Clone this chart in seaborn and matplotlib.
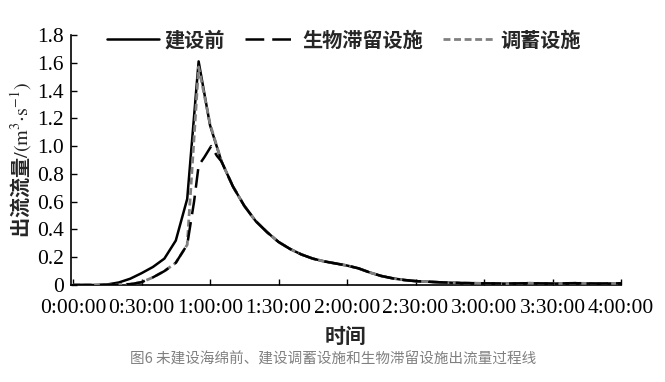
import matplotlib
matplotlib.use("Agg")
import matplotlib.pyplot as plt
import seaborn as sns
import pandas as pd

# ---- data (minutes since start, flow m3/s) ----
t_before = [0, 5, 10, 15, 20, 25, 30, 35, 40, 45, 50, 55, 60, 65, 70, 75, 80, 85, 90,
            95, 100, 105, 110, 115, 120, 125, 130, 135, 140, 145, 150, 160, 170, 180,
            190, 200, 210, 220, 230, 240]
q_before = [0, 0, 0, 0.004, 0.018, 0.045, 0.085, 0.13, 0.19, 0.32, 0.62, 1.61, 1.15,
            0.89, 0.71, 0.57, 0.46, 0.38, 0.31, 0.26, 0.22, 0.19, 0.17, 0.155, 0.14,
            0.12, 0.09, 0.065, 0.048, 0.036, 0.028, 0.02, 0.014, 0.012, 0.01, 0.013,
            0.01, 0.013, 0.01, 0.012]

t_bio = [0, 5, 10, 15, 20, 25, 30, 35, 40, 45, 50, 53, 55, 57.5, 60.5, 63, 65, 70, 75,
         80, 85, 90, 95, 100, 105, 110, 115, 120, 125, 130, 135, 140, 145, 150, 160,
         170, 180, 190, 200, 210, 220, 230, 240]
q_bio = [0, 0, 0, 0, 0.002, 0.006, 0.02, 0.055, 0.1, 0.16, 0.29, 0.6, 0.86, 0.92, 1.0,
         0.93, 0.89, 0.71, 0.57, 0.46, 0.38, 0.31, 0.26, 0.22, 0.19, 0.17, 0.155, 0.14,
         0.12, 0.09, 0.065, 0.048, 0.036, 0.028, 0.02, 0.014, 0.012, 0.01, 0.013, 0.01,
         0.013, 0.01, 0.012]

t_store = [0, 5, 10, 15, 20, 25, 30, 35, 40, 45, 50, 55, 60, 65, 70, 75, 80, 85, 90,
           95, 100, 105, 110, 115, 120, 125, 130, 135, 140, 145, 150, 160, 170, 180,
           190, 200, 210, 220, 230, 240]
q_store = [0, 0, 0, 0, 0.002, 0.006, 0.02, 0.055, 0.1, 0.16, 0.29, 1.57, 1.16, 0.89,
           0.71, 0.57, 0.46, 0.38, 0.31, 0.26, 0.22, 0.19, 0.17, 0.155, 0.14, 0.12,
           0.09, 0.065, 0.048, 0.036, 0.028, 0.02, 0.014, 0.012, 0.01, 0.013, 0.01,
           0.013, 0.01, 0.012]

series_names = ["建设前", "生物滞留设施", "调蓄设施"]
x_ticks = [0, 30, 60, 90, 120, 150, 180, 210, 240]
x_tick_labels = ["0:00:00", "0:30:00", "1:00:00", "1:30:00", "2:00:00",
                 "2:30:00", "3:00:00", "3:30:00", "4:00:00"]
y_ticks = [0, 0.2, 0.4, 0.6, 0.8, 1.0, 1.2, 1.4, 1.6, 1.8]
y_tick_labels = ["0", "0.2", "0.4", "0.6", "0.8", "1.0", "1.2", "1.4", "1.6", "1.8"]

sns.set_theme(style="ticks")
plt.rcParams["font.family"] = ["Noto Sans CJK SC", "DejaVu Sans"]
plt.rcParams["mathtext.fontset"] = "stix"
plt.rcParams["axes.unicode_minus"] = False

fig = plt.figure(figsize=(6.65, 3.82), dpi=100)
ax = fig.add_axes([71 / 665, 1 - 285 / 382, 550 / 665, 250 / 382])

df_b = pd.DataFrame({"t": t_before, "q": q_before})
df_s = pd.DataFrame({"t": t_store, "q": q_store})
df_bio = pd.DataFrame({"t": t_bio, "q": q_bio})

sns.lineplot(data=df_b, x="t", y="q", ax=ax, color="black", lw=1.8,
             label=series_names[0], zorder=2)
sns.lineplot(data=df_s, x="t", y="q", ax=ax, color="#808080", lw=2.0,
             linestyle=(0, (2.5, 1.3)), label=series_names[2], zorder=3)
sns.lineplot(data=df_bio, x="t", y="q", ax=ax, color="black", lw=1.8,
             linestyle=(0, (7.5, 3.2)), label=series_names[1], zorder=4)

ax.set_xlim(-0.9, 240)
ax.set_ylim(0, 1.8)
ax.set_xticks(x_ticks)
ax.set_xticklabels(x_tick_labels)
ax.set_yticks(y_ticks)
ax.set_yticklabels(y_tick_labels)
for lab in ax.get_xticklabels() + ax.get_yticklabels():
    lab.set_fontfamily("Liberation Serif")
    lab.set_fontsize(15.5)
    lab.set_color("black")
ax.tick_params(axis="both", direction="in", length=4, width=1, colors="black")
ax.tick_params(axis="x", pad=10)
ax.tick_params(axis="y", pad=5)
for s in ["top", "right"]:
    ax.spines[s].set_visible(False)
for s in ["left", "bottom"]:
    ax.spines[s].set_color("black")
    ax.spines[s].set_linewidth(1.2)

ax.set_xlabel("时间", fontsize=15, fontweight="bold", labelpad=6)
ax.set_ylabel("出流流量" + r"$/(\mathrm{m^{3}{\cdot}s^{-1}})$", fontsize=14.5,
              fontweight="bold", labelpad=3)

handles, labels = ax.get_legend_handles_labels()
order = [labels.index(n) for n in series_names]
leg = ax.legend([handles[i] for i in order], [labels[i] for i in order],
                loc="center", bbox_to_anchor=(0.496, 0.98), ncol=3, frameon=False,
                handlelength=2.6, handletextpad=0.25, columnspacing=1.0,
                prop={"family": "Noto Sans CJK SC", "weight": "bold", "size": 14.5})

fig.text(333 / 665, 1 - 360 / 382,
         "图6 未建设海绵前、建设调蓄设施和生物滞留设施出流量过程线",
         ha="center", va="center", fontsize=10.5, color="#808080")

fig.savefig("out.png", dpi=100)
